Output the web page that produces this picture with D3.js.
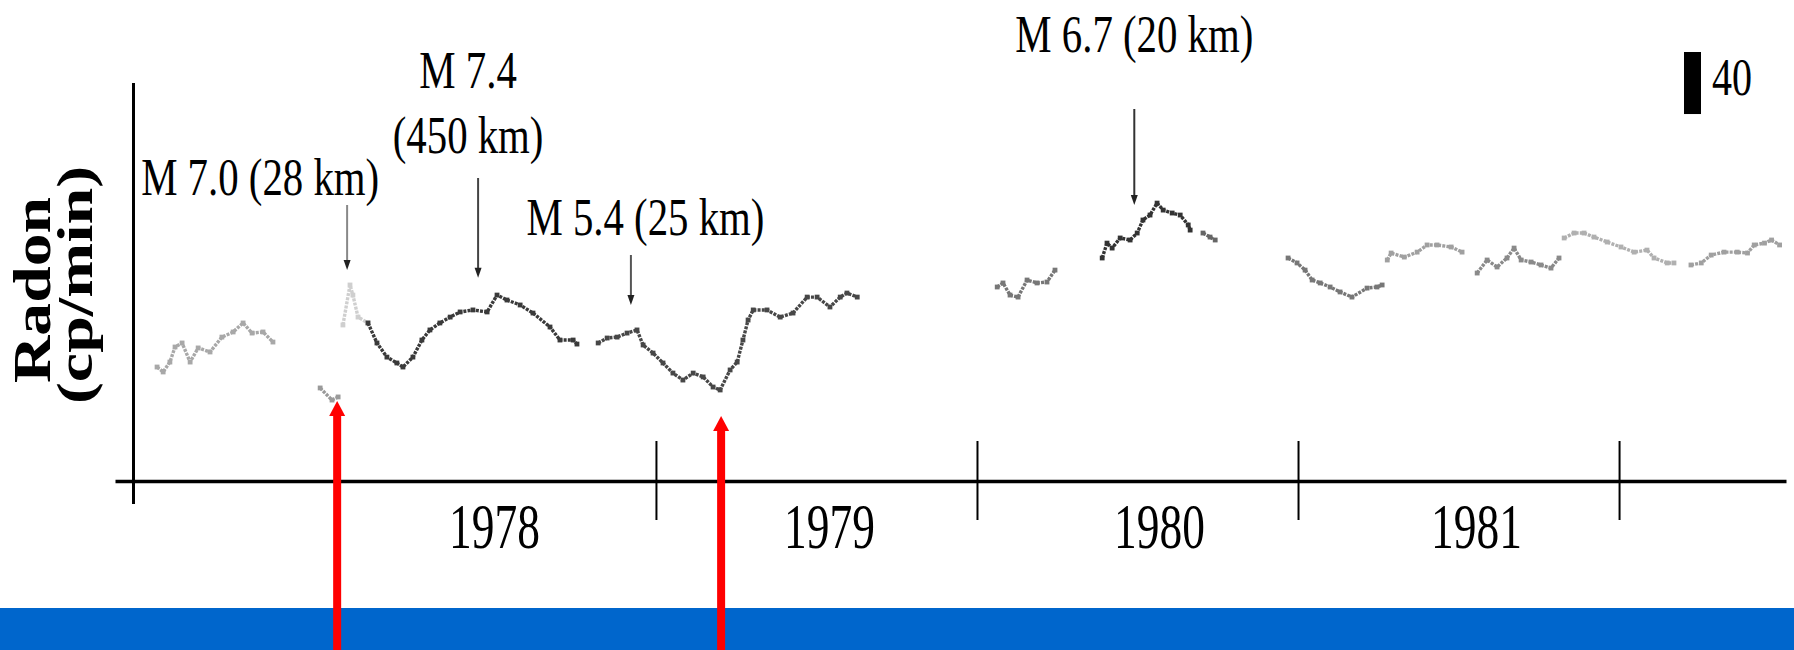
<!DOCTYPE html>
<html>
<head>
<meta charset="utf-8">
<script src="https://cdn.jsdelivr.net/npm/d3@7"></script>
<style>
  body { margin: 0; background: #fff; }
  svg { display: block; }
  text { font-family: "Liberation Serif", "Times New Roman", serif; fill: #000; }
</style>
</head>
<body>
<svg id="chart" width="1794" height="650"></svg>
<script>
const years = [1978, 1979, 1980, 1981];
const yearTicks = [1979, 1980, 1981, 1982];

// radon trace, [decimal year, cp/min], one array per recorded stretch
const seg1977 = [[1977.446, 73.5], [1977.465, 70.3], [1977.486, 76.7], [1977.502, 86.4], [1977.524, 89.0],
  [1977.549, 76.7], [1977.574, 85.8], [1977.611, 83.2], [1977.648, 92.8], [1977.683, 96.1],
  [1977.714, 101.9], [1977.742, 95.4], [1977.776, 96.1], [1977.807, 89.6]];
const segLow = [[1977.954, 60.0], [1977.991, 52.2], [1978.010, 54.2]];
const segSpike = [[1978.025, 100.6], [1978.047, 126.4], [1978.056, 119.9], [1978.072, 105.7], [1978.103, 101.9]];
const seg1978 = [[1978.103, 101.9], [1978.131, 89.0], [1978.162, 79.9], [1978.193, 76.1], [1978.212, 73.5],
  [1978.243, 79.9], [1978.271, 90.9], [1978.296, 97.4], [1978.327, 101.9], [1978.359, 105.7],
  [1978.390, 109.0], [1978.430, 110.3], [1978.474, 109.0], [1978.505, 119.9], [1978.536, 116.7],
  [1978.577, 113.5], [1978.617, 108.3], [1978.670, 99.3], [1978.701, 90.9], [1978.742, 90.9], [1978.754, 88.3]];
const seg1979 = [[1978.820, 89.0], [1978.848, 92.2], [1978.879, 92.8], [1978.910, 95.4], [1978.941, 97.4],
  [1978.960, 87.7], [1978.991, 82.5], [1979.022, 76.1], [1979.053, 69.6], [1979.084, 65.1],
  [1979.116, 69.6], [1979.147, 67.1], [1979.178, 60.6], [1979.200, 58.7], [1979.231, 71.6],
  [1979.253, 76.7], [1979.271, 90.9], [1979.287, 103.8], [1979.303, 110.3], [1979.346, 110.3],
  [1979.387, 105.7], [1979.427, 108.3], [1979.471, 118.6], [1979.502, 118.6], [1979.542, 112.2],
  [1979.574, 118.6], [1979.595, 121.2], [1979.627, 118.6]];
const seg1980a = [[1980.063, 125.1], [1980.081, 127.7], [1980.103, 119.9], [1980.128, 118.6], [1980.156, 129.6],
  [1980.187, 127.7], [1980.218, 128.3], [1980.243, 136.0]];
const seg1980b = [[1980.390, 143.8], [1980.405, 153.4], [1980.421, 150.2], [1980.446, 156.7], [1980.477, 155.4],
  [1980.499, 159.9], [1980.517, 168.3], [1980.539, 171.5], [1980.561, 179.2], [1980.580, 174.7],
  [1980.608, 172.8], [1980.633, 171.5], [1980.658, 165.1], [1980.664, 161.8]];
const seg1980c = [[1980.704, 159.9], [1980.726, 157.3], [1980.742, 155.4]];
const seg1981a = [[1980.969, 143.8], [1980.997, 140.6], [1981.022, 136.0], [1981.044, 129.6], [1981.069, 127.7],
  [1981.100, 125.1], [1981.131, 121.9], [1981.168, 118.6], [1981.215, 124.4], [1981.246, 125.1], [1981.262, 126.4]];
const seg1981b = [[1981.278, 142.5], [1981.290, 147.0], [1981.331, 144.4], [1981.371, 147.6], [1981.402, 152.2],
  [1981.433, 152.2], [1981.477, 150.9], [1981.511, 147.6]];
const seg1981c = [[1981.558, 134.1], [1981.589, 142.5], [1981.620, 138.0], [1981.651, 143.8], [1981.673, 150.2],
  [1981.695, 142.5], [1981.726, 141.2], [1981.757, 139.3], [1981.788, 137.3], [1981.813, 143.8]];
const seg1981d = [[1981.829, 156.7], [1981.860, 159.9], [1981.891, 159.9], [1981.922, 157.3], [1981.963, 154.1],
  [1982.006, 150.9], [1982.047, 147.6], [1982.087, 148.9], [1982.109, 143.8], [1982.150, 140.6], [1982.171, 140.6]];
const seg1982 = [[1982.224, 139.3], [1982.256, 140.6], [1982.287, 145.7], [1982.327, 147.6], [1982.368, 147.6],
  [1982.400, 147.0], [1982.421, 152.2], [1982.453, 153.4], [1982.475, 155.4], [1982.500, 152.2]];

// earthquakes: label lines, time, trace level under the arrow
const quakeLabels = [["M 7.0 (28 km)"], ["M 7.4", "(450 km)"], ["M 5.4 (25 km)"], ["M 6.7 (20 km)"]];
const quakeYears = [1978.038, 1978.446, 1978.922, 1980.490];
const quakeValues = [136, 131, 113.5, 178];

// red markers at the two minima
const markerYears = [1978.007, 1979.203];
const markerValues = [51.6, 41.9];

const scaleBarValue = 40;

const segments = [seg1977, segLow, segSpike, seg1978, seg1979, seg1980a, seg1980b, seg1980c,
  seg1981a, seg1981b, seg1981c, seg1981d, seg1982];
const segTones = ["#a8a8a8", "#9a9a9a", "#cfcfcf", "#3a3a3a", "#474747", "#777", "#333", "#666",
  "#777", "#a0a0a0", "#8a8a8a", "#b0b0b0", "#a0a0a0"];

const quakeLayout = [
  { dx: -87, top: 205, base: [195], stroke: "#888" },
  { dx: -10, top: 178, base: [88, 153], stroke: "#444" },
  { dx: 14.5, top: 255, base: [235], stroke: "#555" },
  { dx: 0, top: 109, base: [52], stroke: "#333" }
];
const yearDx = [-1, 13, 22, 18];

const svg = d3.select("#chart");
const x = d3.scaleLinear().domain([1977.315, 1982.52]).range([115, 1786]);
const y = d3.scaleLinear().domain([0, 256]).range([481, 84]);

// bottom band
svg.append("rect")
  .attr("x", 0).attr("y", 608)
  .attr("width", 1794).attr("height", 42)
  .attr("fill", "#0066cc");

// y axis, no ticks
svg.append("line")
  .attr("x1", 133.5).attr("x2", 133.5)
  .attr("y1", y(256) - 1).attr("y2", y(0) + 23)
  .attr("stroke", "#000").attr("stroke-width", 3);

const xAxis = d3.axisBottom(x)
  .tickValues(yearTicks)
  .tickSizeInner(39)
  .tickSizeOuter(0)
  .tickFormat("");

const gx = svg.append("g")
  .attr("transform", `translate(0,${y(0)})`)
  .call(xAxis);
gx.select(".domain").attr("stroke", "#000").attr("stroke-width", 3.5);
gx.selectAll(".tick line").attr("y1", -40).attr("stroke", "#000").attr("stroke-width", 2);

svg.selectAll("text.year")
  .data(years)
  .join("text")
  .attr("class", "year")
  .attr("transform", (d, i) => `translate(${x(d + 0.5) + yearDx[i]},548) scale(0.71,1)`)
  .attr("text-anchor", "middle")
  .attr("font-size", 64)
  .text(d => d);

const line = d3.line()
  .x(d => x(d[0]))
  .y(d => y(d[1]));

segments.forEach((s, i) => {
  svg.append("path")
    .datum(s)
    .attr("d", line)
    .attr("fill", "none")
    .attr("stroke", segTones[i])
    .attr("stroke-width", 3.4)
    .attr("stroke-dasharray", "3 1.2")
    .attr("stroke-linejoin", "round");

  svg.append("g")
    .selectAll("rect")
    .data(s)
    .join("rect")
    .attr("x", d => x(d[0]) - 2.4)
    .attr("y", d => y(d[1]) - 2.4)
    .attr("width", 4.8)
    .attr("height", 4.8)
    .attr("fill", segTones[i]);
});

quakeYears.forEach((yr, i) => {
  const ax = x(yr);
  const tip = y(quakeValues[i]);
  const L = quakeLayout[i];
  svg.append("line")
    .attr("x1", ax).attr("x2", ax)
    .attr("y1", L.top).attr("y2", tip - 8)
    .attr("stroke", L.stroke).attr("stroke-width", 2);
  svg.append("path")
    .attr("d", `M${ax - 3.5},${tip - 10}L${ax + 3.5},${tip - 10}L${ax},${tip}Z`)
    .attr("fill", "#222");
  quakeLabels[i].forEach((t, j) => {
    svg.append("text")
      .attr("transform", `translate(${ax + L.dx},${L.base[j]}) scale(0.77,1)`)
      .attr("text-anchor", "middle")
      .attr("font-size", 53)
      .text(t);
  });
});

markerYears.forEach((yr, i) => {
  const ax = x(yr);
  const tip = y(markerValues[i]);
  svg.append("rect")
    .attr("x", ax - 4).attr("y", tip + 13)
    .attr("width", 8).attr("height", 650 - tip - 13)
    .attr("fill", "#ff0000");
  svg.append("path")
    .attr("d", `M${ax},${tip}L${ax + 8},${tip + 15}L${ax - 8},${tip + 15}Z`)
    .attr("fill", "#ff0000");
});

// 40 cp/min scale bar
svg.append("rect")
  .attr("x", 1684).attr("y", 52)
  .attr("width", 17).attr("height", y(0) - y(scaleBarValue))
  .attr("fill", "#000");
svg.append("text")
  .attr("transform", "translate(1712,95) scale(0.77,1)")
  .attr("font-size", 52)
  .text(scaleBarValue);

svg.append("text")
  .attr("transform", "translate(50,290) rotate(-90) scale(1.24,1)")
  .attr("text-anchor", "middle")
  .attr("font-weight", "bold")
  .attr("font-size", 53)
  .text("Radon");
svg.append("text")
  .attr("transform", "translate(92,285) rotate(-90) scale(1.32,1)")
  .attr("text-anchor", "middle")
  .attr("font-weight", "bold")
  .attr("font-size", 50)
  .text("(cp/min)");
</script>
</body>
</html>
